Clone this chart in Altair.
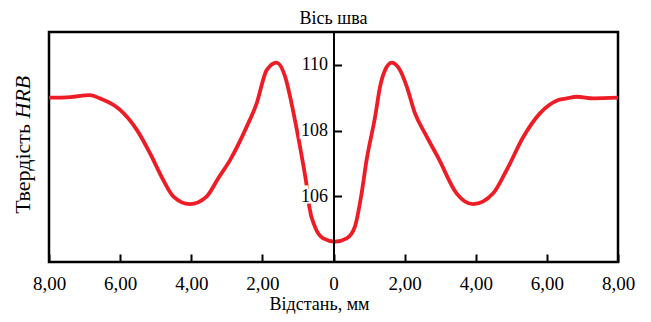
import altair as alt
import pandas as pd

# Hardness profile across the weld (distance in mm, hardness HRB)
distance = [-8.0, -7.4, -6.85, -6.57, -6.0, -5.53, -5.16, -4.79, -4.5, -4.04,
            -3.57, -3.24, -2.91, -2.44, -2.16, -1.88, -1.60, -1.36, -1.18, -1.03,
            -0.89, -0.75, -0.68, -0.52, -0.29, 0.04, 0.37, 0.60, 0.79, 0.93,
            1.17, 1.31, 1.45, 1.64, 1.87, 2.06, 2.29, 2.57, 2.95, 3.46,
            3.93, 4.49, 4.87, 5.34, 5.81, 6.32, 6.56, 6.84, 7.31, 8.0]
hardness = [109.0, 109.02, 109.08, 108.98, 108.63, 108.02, 107.31, 106.5, 105.99, 105.76,
            105.99, 106.55, 107.1, 108.12, 108.83, 109.84, 110.07, 109.64, 108.83, 108.02,
            107.2, 106.29, 105.68, 105.07, 104.72, 104.62, 104.72, 105.07, 106.09, 107.1,
            108.42, 109.34, 109.84, 110.07, 109.84, 109.34, 108.53, 107.92, 107.16, 106.09,
            105.76, 106.09, 106.8, 107.81, 108.53, 108.93, 108.98, 109.03, 108.98, 109.0]

x_ticks = [-8, -6, -4, -2, 0, 2, 4, 6, 8]
y_ticks = [106, 108, 110]
x_domain = [-8, 8]
y_domain = [104, 111]

title_text = ["Вісь шва"]
x_title = "Відстань, мм"
y_title_main = ["Твердість"]
y_title_italic = ["HRB"]

W, H = 569, 230
FONT = "Liberation Serif"
RED = "#ee1c25"

df = pd.DataFrame({"x": distance, "y": hardness})
df_ticks = pd.DataFrame({"v": y_ticks, "z": [0] * len(y_ticks)})

xscale = alt.Scale(domain=x_domain, nice=False, zero=False)
yscale = alt.Scale(domain=y_domain, nice=False, zero=False)

x_axis = alt.Axis(
    orient="top", offset=-H, values=x_ticks, grid=False, domain=False,
    tickSize=8, tickWidth=2, tickColor="black",
    labelPadding=-20, labelBaseline="top", labelFlush=False, labelOverlap=False,
    labelExpr="datum.value == 0 ? '0' : replace(format(abs(datum.value), '.2f'), '.', ',')",
    labelFont=FONT, labelFontSize=19, labelColor="black",
    title=x_title, titleFont=FONT, titleFontSize=18, titleFontWeight="normal",
    titleColor="black", titleX=270, titleY=47, titleAlign="center",
    titleBaseline="alphabetic", titleAngle=0,
)
y_axis = alt.Axis(
    orient="right", offset=-W / 2, values=y_ticks, grid=False, zindex=1,
    domain=True, domainColor="black", domainWidth=2,
    tickSize=8, tickWidth=2, tickColor="black",
    labelAlign="right", labelPadding=-14, labelBaseline="middle",
    labelFont=FONT, labelFontSize=18, labelColor="black", title=None,
)

line = alt.Chart(df).mark_line(
    color=RED, strokeWidth=3.8, interpolate="monotone"
).encode(
    x=alt.X("x:Q", scale=xscale, axis=x_axis),
    y=alt.Y("y:Q", scale=yscale, axis=y_axis),
)

# white backing behind the y tick labels (they sit over the curve)
halo = alt.Chart(df_ticks).mark_text(
    align="right", baseline="middle", dx=-6, font=FONT, fontSize=18,
    color="white", stroke="white", strokeWidth=5
).encode(
    x=alt.X("z:Q", scale=xscale),
    y=alt.Y("v:Q", scale=yscale),
    text=alt.Text("v:Q"),
)

title = alt.Chart(pd.DataFrame({"t": title_text})).mark_text(
    align="center", baseline="alphabetic", font=FONT, fontSize=18, color="black"
).encode(x=alt.value(W / 2), y=alt.value(-8), text="t:N")

ytitle1 = alt.Chart(pd.DataFrame({"t": y_title_main})).mark_text(
    angle=270, align="right", baseline="middle", font=FONT, fontSize=22, color="black"
).encode(x=alt.value(-26), y=alt.value(92), text="t:N")

ytitle2 = alt.Chart(pd.DataFrame({"t": y_title_italic})).mark_text(
    angle=270, align="left", baseline="middle", font=FONT, fontSize=22,
    fontStyle="italic", color="black"
).encode(x=alt.value(-26), y=alt.value(86.5), text="t:N")

chart = alt.layer(line, halo, title, ytitle1, ytitle2).properties(
    width=W, height=H,
    background="white",
    autosize=alt.AutoSizeParams(type="none"),
    padding={"left": 41, "top": 24, "right": 25, "bottom": 52},
).configure_view(
    stroke="black", strokeWidth=2.5
)

chart.save("out.html", embed_options={"renderer": "svg", "actions": False})
